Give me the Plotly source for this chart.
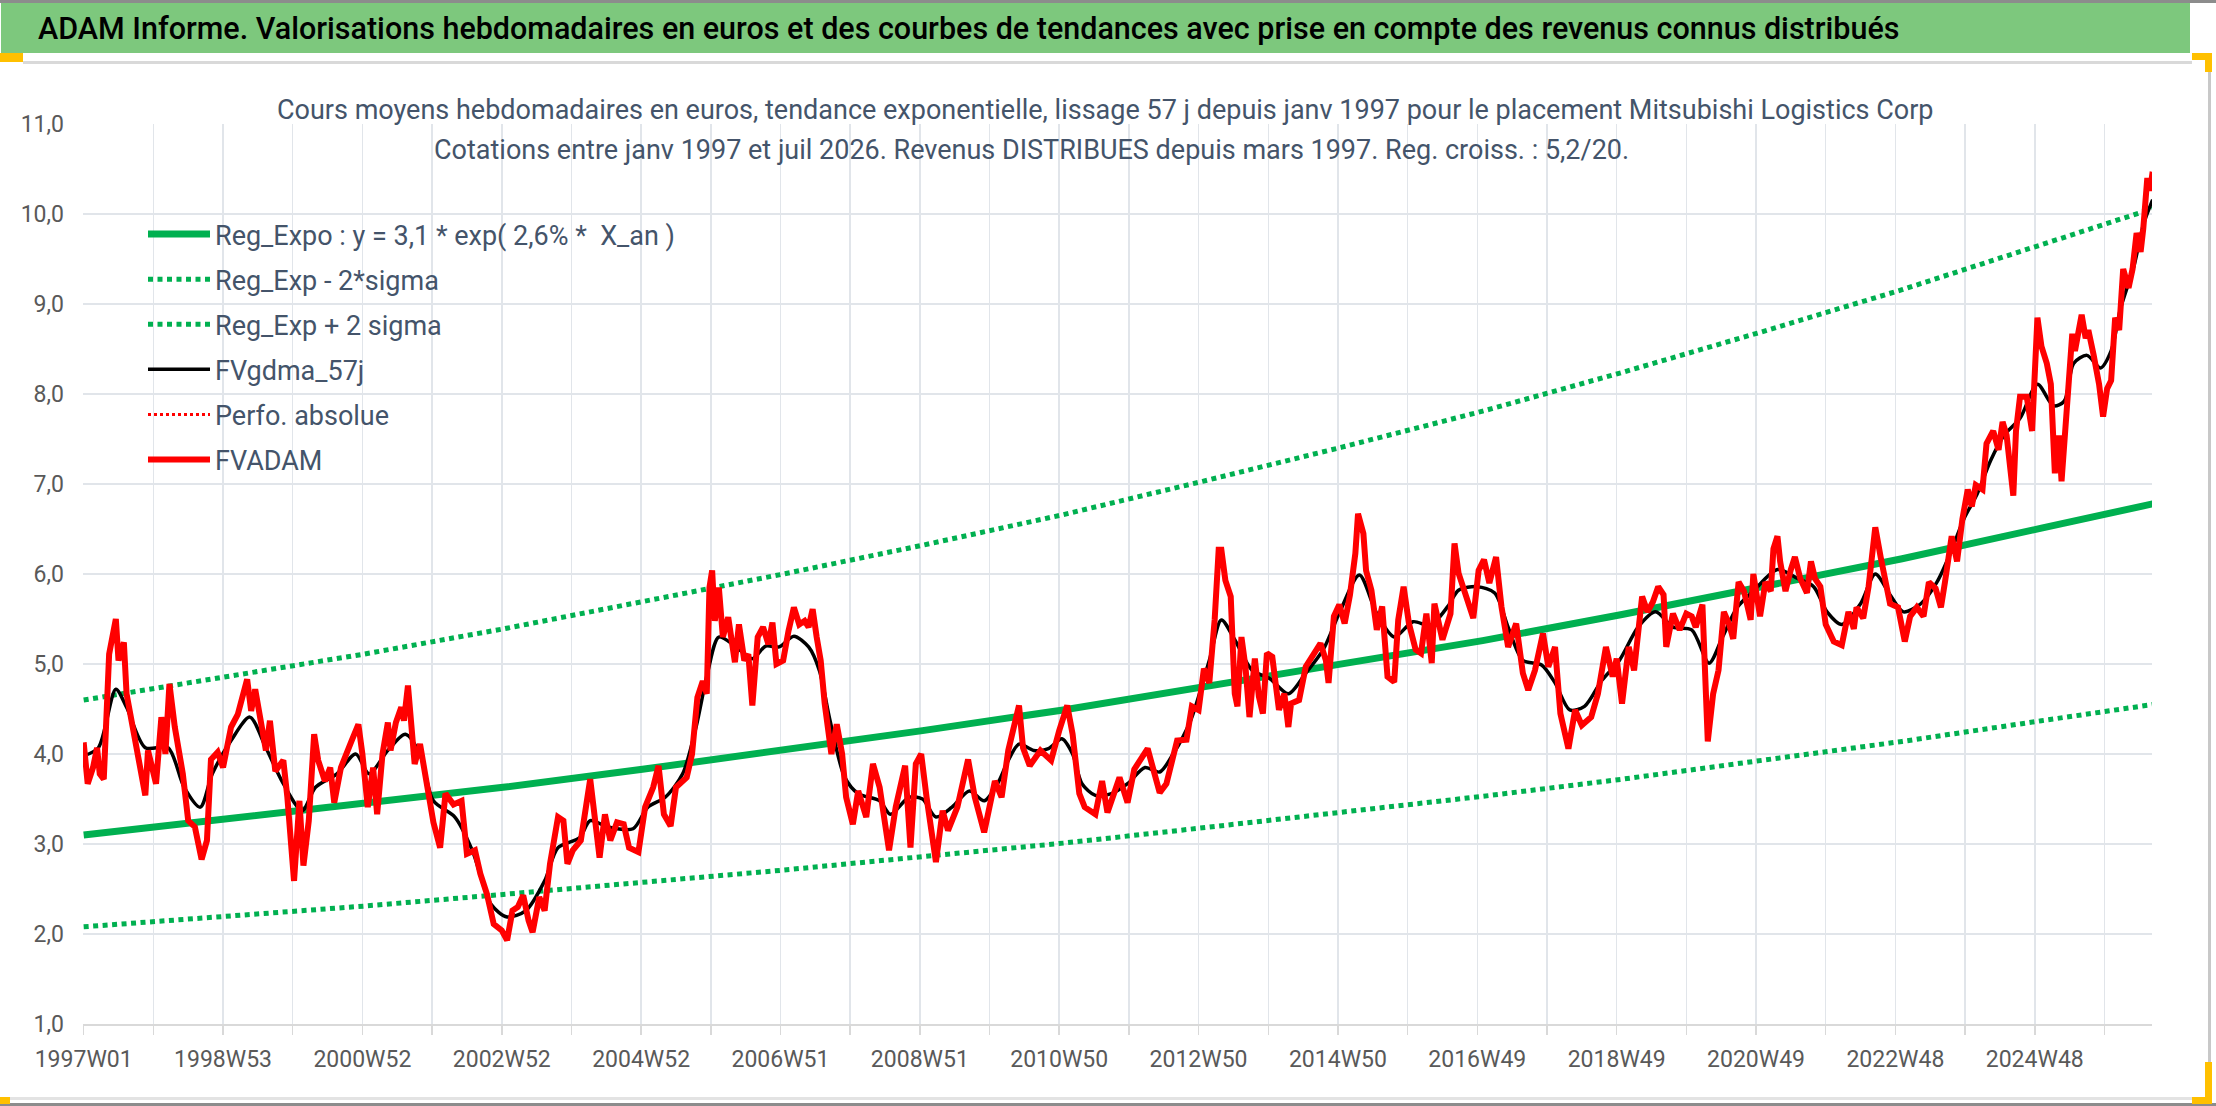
import plotly.graph_objects as go

# ---------------- data ----------------
# week index since 1997W01
tick_weeks = [0, 104, 208, 312, 416, 520, 624, 728, 832, 936, 1040, 1144, 1248, 1352, 1456]
tick_labels = ["1997W01", "1998W53", "2000W52", "2002W52", "2004W52", "2006W51", "2008W51",
               "2010W50", "2012W50", "2014W50", "2016W49", "2018W49", "2020W49", "2022W48", "2024W48"]

reg_weeks = [0, 104, 209, 313, 417, 522, 626, 731, 835, 939, 1044, 1148, 1252, 1357, 1461, 1544]
reg_expo = [3.10, 3.27, 3.45, 3.63, 3.83, 4.04, 4.26, 4.49, 4.74, 4.99, 5.26, 5.55, 5.85, 6.17, 6.51, 6.78]
reg_minus = [2.08, 2.19, 2.31, 2.44, 2.57, 2.71, 2.86, 3.01, 3.18, 3.35, 3.53, 3.72, 3.93, 4.14, 4.37, 4.55]
reg_plus = [4.60, 4.85, 5.11, 5.39, 5.69, 6.00, 6.32, 6.66, 7.03, 7.41, 7.81, 8.24, 8.69, 9.16, 9.66, 10.06]

gdma_weeks = [0, 11, 24, 32, 46, 63, 75, 87, 96, 110, 124, 136, 149, 163, 173, 189, 203, 213, 227, 240,
              251, 261, 277, 290, 304, 316, 330, 344, 354, 370, 378, 391, 410, 421, 434, 447, 457, 466,
              474, 487, 499, 509, 519, 530, 541, 549, 557, 568, 578, 594, 602, 616, 626, 636, 648, 661,
              672, 682, 690, 698, 709, 720, 730, 738, 745, 755, 767, 779, 792, 803, 813, 826, 840, 849,
              859, 872, 885, 899, 912, 925, 938, 952, 965, 978, 992, 1005, 1018, 1026, 1040, 1053, 1063,
              1074, 1088, 1098, 1109, 1120, 1133, 1146, 1160, 1173, 1186, 1200, 1213, 1223, 1234, 1246,
              1264, 1279, 1291, 1301, 1312, 1326, 1337, 1348, 1358, 1371, 1383, 1393, 1403, 1413, 1423,
              1433, 1445, 1458, 1470, 1478, 1485, 1495, 1505, 1513, 1520, 1530, 1537, 1544]
gdma_vals = [3.98, 4.07, 4.72, 4.52, 4.07, 4.07, 3.63, 3.41, 3.78, 4.15, 4.41, 4.07, 3.67, 3.37, 3.63,
             3.78, 4.00, 3.78, 4.04, 4.22, 4.00, 3.48, 3.30, 2.93, 2.33, 2.19, 2.26, 2.59, 2.96, 3.07,
             3.26, 3.19, 3.17, 3.41, 3.52, 3.78, 4.30, 4.93, 5.30, 5.19, 5.06, 5.20, 5.19, 5.31, 5.19,
             4.93, 4.37, 3.74, 3.56, 3.48, 3.33, 3.52, 3.50, 3.30, 3.41, 3.59, 3.48, 3.67, 3.93, 4.11,
             4.04, 4.06, 4.17, 4.00, 3.67, 3.54, 3.56, 3.67, 3.85, 3.80, 4.00, 4.37, 5.04, 5.49, 5.27,
             4.93, 4.84, 4.67, 4.90, 5.16, 5.60, 5.99, 5.56, 5.30, 5.47, 5.43, 5.64, 5.82, 5.86, 5.79,
             5.41, 5.04, 4.99, 4.79, 4.49, 4.53, 4.82, 5.04, 5.41, 5.58, 5.41, 5.38, 5.01, 5.30, 5.63,
             5.81, 6.05, 5.95, 5.86, 5.58, 5.44, 5.67, 6.00, 5.77, 5.58, 5.67, 5.91, 6.23, 6.61, 6.89,
             7.26, 7.54, 7.73, 8.11, 7.87, 7.92, 8.34, 8.43, 8.29, 8.48, 8.95, 9.42, 9.88, 10.16]

adam_weeks = [0, 3, 7, 10, 12, 15, 19, 24, 26, 30, 32, 36, 40, 46, 48, 54, 58, 61, 64, 68, 74, 78, 83,
              88, 92, 95, 100, 104, 110, 115, 122, 125, 128, 132, 136, 139, 143, 149, 152, 157, 161, 164,
              168, 172, 175, 180, 184, 187, 192, 200, 205, 208, 212, 216, 219, 223, 227, 229, 233, 237,
              239, 242, 247, 251, 253, 257, 261, 266, 270, 276, 282, 286, 292, 296, 301, 306, 312, 316,
              320, 324, 328, 332, 335, 340, 344, 348, 354, 358, 361, 365, 371, 378, 385, 389, 393, 398,
              403, 407, 414, 419, 425, 429, 433, 438, 442, 450, 454, 458, 462, 465, 467, 469, 471, 474,
              477, 481, 486, 489, 493, 496, 499, 503, 507, 511, 514, 517, 522, 526, 530, 534, 538, 541,
              544, 547, 550, 553, 558, 562, 566, 569, 574, 578, 584, 589, 594, 601, 606, 613, 617, 621,
              625, 629, 636, 641, 645, 652, 660, 665, 672, 680, 685, 690, 698, 701, 706, 714, 722, 728,
              734, 738, 743, 747, 755, 760, 764, 773, 779, 784, 794, 803, 808, 816, 823, 827, 832, 836,
              840, 844, 847, 849, 852, 856, 859, 861, 864, 867, 870, 874, 877, 880, 883, 887, 892, 896,
              899, 901, 907, 912, 919, 923, 927, 929, 933, 937, 941, 945, 949, 951, 955, 957, 961, 965,
              969, 973, 978, 981, 985, 989, 994, 998, 1002, 1006, 1008, 1014, 1020, 1023, 1026, 1030,
              1034, 1037, 1041, 1045, 1049, 1054, 1058, 1063, 1069, 1074, 1078, 1083, 1089, 1093, 1098,
              1102, 1108, 1113, 1118, 1125, 1130, 1136, 1141, 1144, 1148, 1153, 1157, 1163, 1167, 1171,
              1175, 1179, 1181, 1186, 1191, 1196, 1200, 1203, 1208, 1212, 1216, 1220, 1224, 1228, 1231,
              1235, 1239, 1244, 1246, 1251, 1255, 1259, 1261, 1264, 1266, 1270, 1274, 1277, 1281, 1286,
              1289, 1292, 1296, 1300, 1306, 1312, 1317, 1321, 1323, 1328, 1332, 1337, 1341, 1345, 1348,
              1354, 1359, 1363, 1368, 1373, 1377, 1382, 1386, 1389, 1394, 1398, 1402, 1406, 1409, 1412,
              1417, 1420, 1425, 1429, 1432, 1435, 1440, 1442, 1445, 1450, 1454, 1458, 1461, 1465, 1468,
              1471, 1474, 1476, 1479, 1484, 1486, 1491, 1494, 1496, 1500, 1504, 1507, 1510, 1513, 1516,
              1519, 1522, 1526, 1529, 1532, 1535, 1537, 1540, 1542, 1544]
adam_vals = [4.13, 3.67, 3.85, 4.07, 3.78, 3.72, 5.11, 5.50, 5.04, 5.24, 4.67, 4.37, 4.07, 3.54, 4.04,
             3.67, 4.41, 4.00, 4.78, 4.30, 3.78, 3.26, 3.19, 2.83, 3.04, 3.94, 4.02, 3.85, 4.30, 4.44,
             4.83, 4.48, 4.72, 4.37, 4.04, 4.37, 3.81, 3.93, 3.52, 2.59, 3.48, 2.76, 3.26, 4.22, 3.93,
             3.70, 3.85, 3.46, 3.85, 4.15, 4.33, 4.00, 3.41, 3.85, 3.33, 4.00, 4.35, 4.04, 4.35, 4.52,
             4.37, 4.76, 3.89, 4.11, 3.93, 3.52, 3.24, 2.96, 3.56, 3.44, 3.48, 2.89, 2.93, 2.67, 2.44,
             2.11, 2.04, 1.93, 2.26, 2.30, 2.43, 2.15, 2.02, 2.41, 2.26, 2.78, 3.30, 3.26, 2.78, 2.93,
             3.04, 3.72, 2.85, 3.33, 3.04, 3.24, 3.22, 2.96, 2.91, 3.41, 3.63, 3.87, 3.33, 3.20, 3.63,
             3.74, 4.00, 4.63, 4.81, 4.67, 5.85, 6.04, 5.48, 5.85, 5.30, 5.52, 5.02, 5.44, 5.04, 5.11,
             4.54, 5.30, 5.41, 5.22, 5.46, 5.00, 5.04, 5.37, 5.63, 5.44, 5.48, 5.41, 5.61, 5.30, 5.04,
             4.56, 4.00, 4.33, 4.00, 3.52, 3.22, 3.59, 3.30, 3.89, 3.63, 2.93, 3.41, 3.87, 2.96, 3.89,
             4.00, 3.52, 2.80, 3.37, 3.15, 3.41, 3.94, 3.52, 3.13, 3.70, 3.52, 4.04, 4.54, 4.07, 3.87,
             4.04, 3.93, 4.26, 4.54, 4.22, 3.56, 3.41, 3.33, 3.70, 3.35, 3.74, 3.46, 3.83, 4.06, 3.57,
             3.67, 4.15, 4.16, 4.53, 4.49, 4.95, 4.79, 5.49, 6.27, 6.27, 5.93, 5.75, 4.67, 4.53, 5.30,
             4.97, 4.41, 5.06, 4.64, 4.45, 5.12, 5.08, 4.49, 4.67, 4.30, 4.56, 4.60, 4.97, 5.12, 5.23,
             5.04, 4.79, 5.53, 5.66, 5.45, 5.77, 6.23, 6.67, 6.45, 6.04, 5.82, 5.38, 5.64, 4.86, 4.80,
             5.49, 5.86, 5.45, 5.16, 5.12, 5.56, 5.01, 5.67, 5.27, 5.56, 6.34, 6.01, 5.82, 5.64, 5.51,
             6.04, 6.16, 5.90, 6.19, 5.64, 5.19, 5.45, 4.90, 4.71, 4.93, 5.34, 4.97, 5.19, 4.45, 4.06,
             4.49, 4.32, 4.41, 4.67, 5.19, 4.86, 5.06, 4.56, 5.19, 4.93, 5.75, 5.58, 5.69, 5.86, 5.77,
             5.19, 5.56, 5.38, 5.56, 5.53, 5.41, 5.66, 4.14, 4.67, 4.93, 5.58, 5.44, 5.28, 5.91, 5.81,
             5.49, 6.00, 5.53, 5.91, 5.81, 6.28, 6.42, 6.14, 5.81, 6.05, 6.19, 5.95, 5.79, 6.14, 5.95,
             5.86, 5.44, 5.25, 5.21, 5.58, 5.39, 5.63, 5.51, 5.86, 6.52, 6.19, 5.91, 5.67, 5.63, 5.25,
             5.53, 5.63, 5.53, 5.91, 5.84, 5.63, 5.91, 6.42, 6.14, 6.61, 6.94, 6.75, 6.99, 6.94, 7.45,
             7.59, 7.38, 7.69, 7.54, 6.87, 7.59, 7.97, 7.97, 7.59, 8.85, 8.53, 8.34, 8.11, 7.12, 7.54,
             7.03, 7.59, 8.67, 8.48, 8.88, 8.62, 8.71, 8.43, 8.11, 7.75, 8.06, 8.15, 8.85, 8.71, 9.39,
             9.18, 9.39, 9.79, 9.58, 9.84, 10.40, 10.26, 10.47]

title_text = ("ADAM Informe. Valorisations hebdomadaires en euros et des courbes de tendances "
              "avec prise en compte des revenus connus distribués")
sub1 = ("Cours moyens hebdomadaires en euros, tendance exponentielle, lissage 57 j depuis janv 1997 "
        "pour le placement Mitsubishi Logistics Corp")
sub2 = "Cotations entre janv 1997 et juil 2026. Revenus DISTRIBUES depuis mars 1997. Reg. croiss. : 5,2/20."

# ---------------- layout geometry (pixels) ----------------
W, H = 2216, 1106
L, R, T, B = 83, 2152, 124, 1024
PW, PH = R - L, B - T

def px(x):
    return (x - L) / PW

def py(y):
    return (B - y) / PH

FONT = "Roboto, sans-serif"
GREEN = "#00B050"

fig = go.Figure()
fig.add_trace(go.Scatter(x=reg_weeks, y=reg_expo, mode="lines", name="Reg_Expo : y = 3,1 * exp( 2,6% *  X_an )",
                         line=dict(color=GREEN, width=7), legendgroup="a"))
fig.add_trace(go.Scatter(x=reg_weeks, y=reg_minus, mode="lines", name="Reg_Exp - 2*sigma",
                         line=dict(color=GREEN, width=5, dash="5px,4.5px"), legendgroup="b"))
fig.add_trace(go.Scatter(x=reg_weeks, y=reg_plus, mode="lines", name="Reg_Exp + 2 sigma",
                         line=dict(color=GREEN, width=5, dash="5px,4.5px"), legendgroup="c"))
fig.add_trace(go.Scatter(x=gdma_weeks, y=gdma_vals, mode="lines", name="FVgdma_57j",
                         line=dict(color="black", width=3.5, shape="spline", smoothing=0.8), legendgroup="d"))
fig.add_trace(go.Scatter(x=[None], y=[None], mode="lines", name="Perfo. absolue",
                         line=dict(color="#FF0000", width=3, dash="3px,3px"), legendgroup="e"))
fig.add_trace(go.Scatter(x=adam_weeks, y=adam_vals, mode="lines", name="FVADAM",
                         line=dict(color="#FF0000", width=6), legendgroup="f"))

grid_vals = list(range(0, 1509, 52))
grid_text = []
for v in grid_vals:
    grid_text.append(tick_labels[tick_weeks.index(v)] if v in tick_weeks else "")

shapes = [
    # outer frame pieces
    dict(type="rect", xref="paper", yref="paper", x0=px(0), x1=px(W), y0=py(0), y1=py(3),
         fillcolor="#8C8C8C", line_width=0, layer="below"),
    dict(type="rect", xref="paper", yref="paper", x0=px(1), x1=px(2190), y0=py(3), y1=py(53),
         fillcolor="#7DC87D", line_width=0, layer="below"),
    dict(type="rect", xref="paper", yref="paper", x0=px(23), x1=px(2192), y0=py(61), y1=py(64),
         fillcolor="#D9D9D9", line_width=0, layer="below"),
    dict(type="rect", xref="paper", yref="paper", x0=px(0), x1=px(23), y0=py(53), y1=py(62),
         fillcolor="#FFC000", line_width=0, layer="below"),
    dict(type="rect", xref="paper", yref="paper", x0=px(2192), x1=px(2212), y0=py(53), y1=py(60),
         fillcolor="#FFC000", line_width=0, layer="below"),
    dict(type="rect", xref="paper", yref="paper", x0=px(2205), x1=px(2212), y0=py(53), y1=py(72),
         fillcolor="#FFC000", line_width=0, layer="below"),
    dict(type="rect", xref="paper", yref="paper", x0=px(2208), x1=px(2211), y0=py(72), y1=py(1100),
         fillcolor="#C8C8C8", line_width=0, layer="below"),
    dict(type="rect", xref="paper", yref="paper", x0=px(0), x1=px(2208), y0=py(1097), y1=py(1100),
         fillcolor="#E3E3E3", line_width=0, layer="below"),
    dict(type="rect", xref="paper", yref="paper", x0=px(0), x1=px(W), y0=py(1103), y1=py(1106),
         fillcolor="#8C8C8C", line_width=0, layer="below"),
    dict(type="rect", xref="paper", yref="paper", x0=px(0), x1=px(10), y0=py(1097), y1=py(1104),
         fillcolor="#FFC000", line_width=0, layer="below"),
    dict(type="rect", xref="paper", yref="paper", x0=px(2192), x1=px(2212), y0=py(1097), y1=py(1104),
         fillcolor="#FFC000", line_width=0, layer="below"),
    dict(type="rect", xref="paper", yref="paper", x0=px(2205), x1=px(2212), y0=py(1062), y1=py(1104),
         fillcolor="#FFC000", line_width=0, layer="below"),
    # white box behind the chart title (hides gridlines)
    dict(type="rect", xref="paper", yref="paper", x0=px(275), x1=px(1932), y0=py(66), y1=py(174),
         fillcolor="white", line_width=0, layer="between"),
]

annotations = [
    dict(text=title_text, xref="paper", yref="paper", x=px(36), y=py(29), xanchor="left", yanchor="middle",
         showarrow=False, font=dict(family=FONT, size=30.5, color="black", weight=500)),
    dict(text=sub1, xref="paper", yref="paper", x=px(1105), y=py(110), xanchor="center", yanchor="middle",
         showarrow=False, font=dict(family=FONT, size=27, color="#44546A")),
    dict(text=sub2, xref="paper", yref="paper", x=px(1031), y=py(150), xanchor="center", yanchor="middle",
         showarrow=False, font=dict(family=FONT, size=27, color="#44546A")),
]

fig.update_layout(
    width=W, height=H, autosize=False,
    margin=dict(l=L, r=W - R, t=T, b=H - B, pad=0),
    paper_bgcolor="white", plot_bgcolor="white",
    separators=", ",
    showlegend=True,
    legend=dict(x=px(143), y=py(210), xanchor="left", yanchor="top", bgcolor="rgba(0,0,0,0)",
                font=dict(family=FONT, size=27, color="#44546A"), itemwidth=62,
                traceorder="grouped", tracegroupgap=7),
    shapes=shapes, annotations=annotations,
    xaxis=dict(range=[-0.5, 1543.5], tickmode="array", tickvals=grid_vals, ticktext=grid_text,
               showgrid=True, gridcolor="#E1E5EA", gridwidth=1.5, zeroline=False,
               showline=True, linecolor="#D9D9D9", linewidth=2,
               ticks="outside", ticklen=9, tickcolor="#D9D9D9", tickwidth=1.5,
               tickfont=dict(family=FONT, size=23, color="#595959"), ticklabelstandoff=4),
    yaxis=dict(range=[1, 11.001], tickmode="linear", tick0=1, dtick=1, tickformat=".1f",
               showgrid=True, gridcolor="#E1E5EA", gridwidth=1.5, zeroline=False, showline=False,
               ticks="", tickfont=dict(family=FONT, size=23, color="#595959"), ticklabelstandoff=18),
    hovermode=False,
)

fig.write_html("out.html", config={"displayModeBar": False, "staticPlot": True},
               post_script="document.body.style.margin='0';document.body.style.overflow='hidden';")
